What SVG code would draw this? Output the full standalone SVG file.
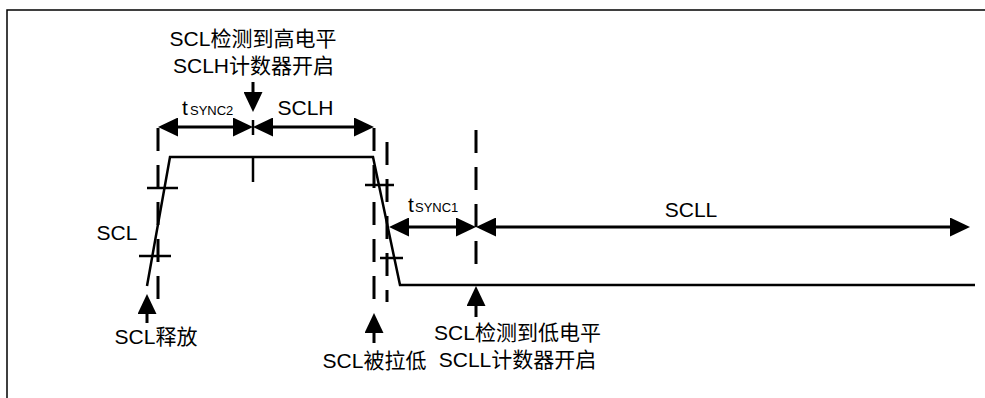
<svg xmlns="http://www.w3.org/2000/svg" width="985" height="398" viewBox="0 0 985 398">
<style>
.frame{fill:none;stroke:#000;stroke-width:1.5}
.sig{fill:none;stroke:#000;stroke-width:2.5;stroke-linejoin:miter}
.tick{stroke:#000;stroke-width:2.5}
.dash{stroke:#000;stroke-width:3;stroke-dasharray:23 14}
.arr{stroke:#000;stroke-width:3;fill:none}
.t{font-family:"Liberation Sans","Noto Sans CJK SC",sans-serif;font-size:21px;fill:#000;text-anchor:middle}
.ts{font-family:"Liberation Sans","Noto Sans CJK SC",sans-serif;font-size:21px;fill:#000}
.sub{font-size:13px}
</style>
<defs>
<marker id="ah" viewBox="0 0 20 19" refX="10" refY="9.5" markerWidth="20" markerHeight="19" markerUnits="userSpaceOnUse" orient="auto-start-reverse">
<path d="M0,0 L20,9.5 L0,19 z" fill="#000"/>
</marker>
</defs>
<rect width="985" height="398" fill="#fff"/>
<path class="frame" d="M7,398 V10 H985"/>

<g id="signal">
<polyline class="sig" points="147,286 170,157 373,157 400,285 975,285"/>
<line class="tick" x1="253" y1="157" x2="253" y2="182"/>
<line class="tick" x1="147" y1="188" x2="178" y2="188"/>
<line class="tick" x1="139" y1="256" x2="171" y2="256"/>
<line class="tick" x1="365" y1="185" x2="394" y2="185"/>
<line class="tick" x1="380" y1="258" x2="403" y2="258"/>
</g>

<g id="guides">
<line class="dash" x1="158" y1="128" x2="158" y2="302"/>
<line class="dash" x1="374" y1="128" x2="374" y2="302"/>
<line class="dash" x1="387" y1="142" x2="387" y2="302"/>
<line class="dash" x1="476" y1="130" x2="476" y2="270"/>
<line class="tick" x1="253" y1="120" x2="253" y2="135"/>
</g>

<g id="connectors">
<line class="arr" x1="168" y1="127" x2="243" y2="127" marker-start="url(#ah)" marker-end="url(#ah)"/>
<line class="arr" x1="263" y1="127" x2="364" y2="127" marker-start="url(#ah)" marker-end="url(#ah)"/>
<line class="arr" x1="399" y1="227" x2="466" y2="227" marker-start="url(#ah)" marker-end="url(#ah)"/>
<line class="arr" x1="486" y1="227" x2="960" y2="227" marker-start="url(#ah)" marker-end="url(#ah)"/>
<line class="arr" x1="253" y1="82" x2="253" y2="102" marker-end="url(#ah)"/>
<line class="arr" x1="147" y1="323" x2="147" y2="304" marker-end="url(#ah)"/>
<line class="arr" x1="374" y1="343" x2="374" y2="323" marker-end="url(#ah)"/>
<line class="arr" x1="476" y1="317" x2="476" y2="296" marker-end="url(#ah)"/>
</g>

<g id="label-high">
<text class="t" x="253" y="46">SCL检测到高电平</text>
<text class="t" x="253.5" y="73">SCLH计数器开启</text>
</g>
<g id="label-tsync2">
<text class="ts" x="182" y="115">t<tspan class="sub" x="190">SYNC2</tspan></text>
</g>
<g id="label-sclh"><text class="t" x="305.5" y="115">SCLH</text></g>
<g id="label-tsync1">
<text class="ts" x="408" y="212">t<tspan class="sub" x="415">SYNC1</tspan></text>
</g>
<g id="label-scll"><text class="t" x="691" y="217">SCLL</text></g>
<g id="label-scl"><text class="t" x="117" y="240">SCL</text></g>
<g id="label-release"><text class="t" x="156" y="344">SCL释放</text></g>
<g id="label-pulled"><text class="t" x="374.5" y="368">SCL被拉低</text></g>
<g id="label-low">
<text class="t" x="517.5" y="340">SCL检测到低电平</text>
<text class="t" x="517.5" y="367">SCLL计数器开启</text>
</g>
</svg>
